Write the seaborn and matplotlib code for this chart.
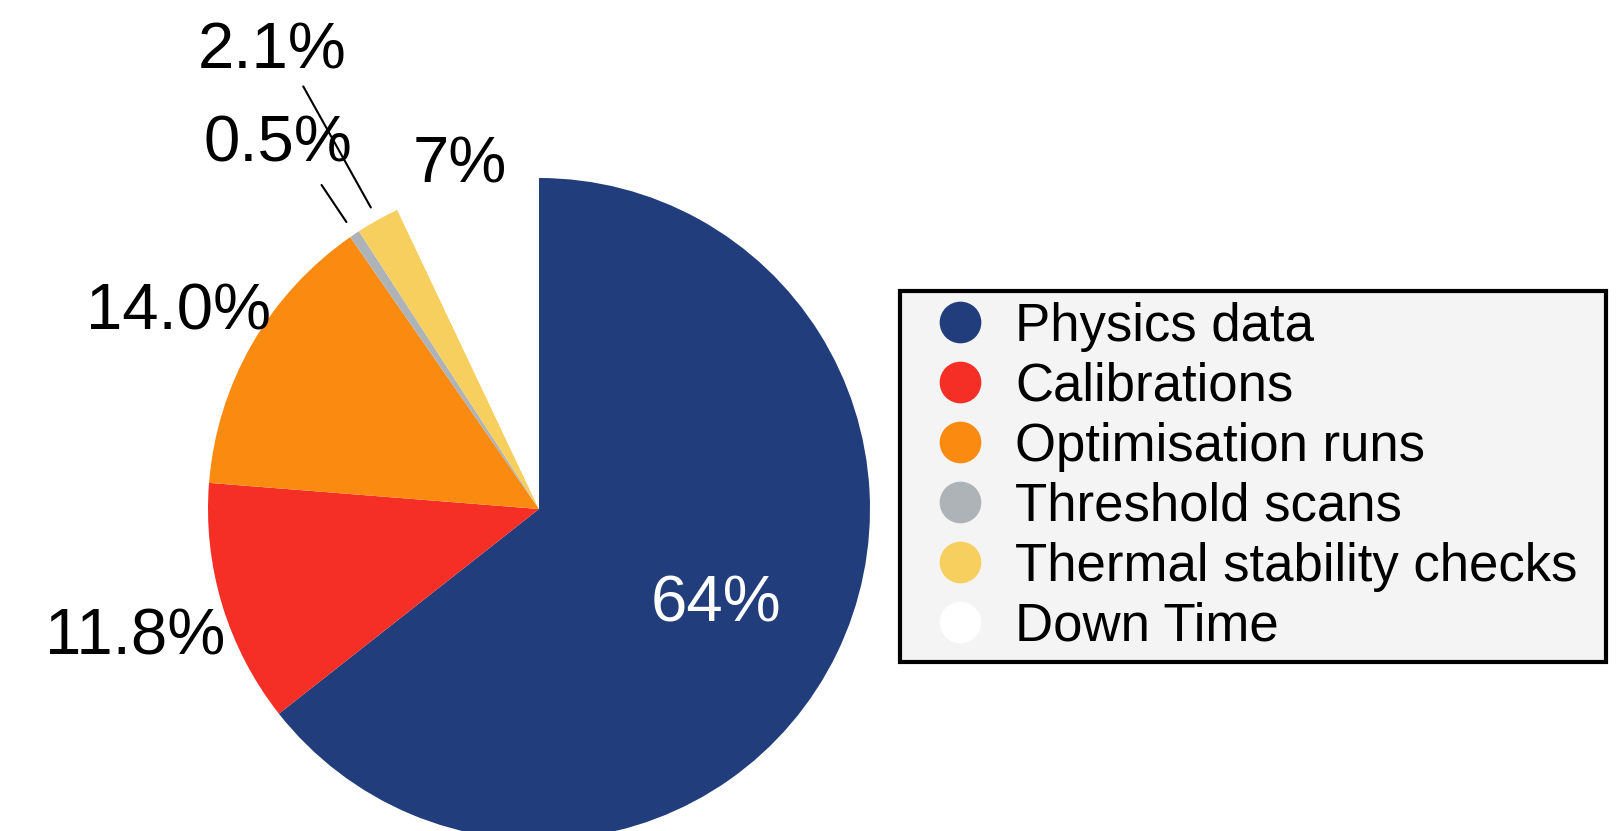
import numpy as np
import matplotlib
matplotlib.use("Agg")
import matplotlib.pyplot as plt
import seaborn as sns
from matplotlib.lines import Line2D

# Dados do gráfico
categorias = ["Physics data", "Calibrations", "Optimisation runs",
              "Threshold scans", "Thermal stability checks", "Down Time"]
percentagens = [64, 11.8, 14.0, 0.5, 2.1, 7]
rotulos = ["64%", "11.8%", "14.0%", "0.5%", "2.1%", "7%"]
cores = ["#223D7C", "#F52E26", "#FA8A10", "#AEB3B8", "#F7CF5E", "#FFFFFF"]

# Layout dos rótulos (distância ao centro em raios, ajuste de ângulo) e linhas de chamada
raio_rotulo = [0.606, 1.279, 1.242, 1.355, 1.599, 1.065]
ajuste_ang = [-2.4, 0.85, 1.25, 1.8, 1.1, 0.3]
linha_chamada = {3: (1.044, 1.179), 4: (1.043, 1.462)}

sns.set_theme(style="white")
plt.rcParams["font.family"] = ["Liberation Sans", "DejaVu Sans"]
plt.rcParams["text.color"] = "black"

fig = plt.figure(figsize=(16.19, 8.31), dpi=100)
ax = fig.add_axes([0, 0, 1, 1])

paleta = sns.color_palette(cores)
wedges, _ = ax.pie(percentagens, colors=paleta, startangle=90, counterclock=False,
                   wedgeprops=dict(linewidth=0))

# Rótulos percentuais
for i, w in enumerate(wedges):
    meio = (w.theta1 + w.theta2) / 2
    ang = np.deg2rad(meio + ajuste_ang[i])
    r = raio_rotulo[i]
    cor_txt = "white" if i == 0 else "black"
    ax.text(r * np.cos(ang), r * np.sin(ang), rotulos[i], ha="center", va="center",
            fontsize=47, color=cor_txt)
    if i in linha_chamada:
        r0, r1 = linha_chamada[i]
        a = np.deg2rad(meio)
        ax.plot([r0 * np.cos(a), r1 * np.cos(a)], [r0 * np.sin(a), r1 * np.sin(a)],
                color="black", lw=1.5)

# Enquadramento: centro da pizza a (539, 509) px, raio 331 px
ax.set_xlim(-539 / 331, (1619 - 539) / 331)
ax.set_ylim(-(831 - 509) / 331, 509 / 331)
ax.set_aspect("auto")
ax.axis("off")

# Legenda
handles = [Line2D([], [], marker="o", linestyle="none", markersize=29,
                  markerfacecolor=c, markeredgecolor=c) for c in paleta]
leg = fig.legend(handles, categorias, loc="upper left",
                 bbox_to_anchor=(900 / 1619, 0, (1606 - 900) / 1619, 1 - 291 / 831),
                 mode="expand", borderaxespad=0,
                 fontsize=38, frameon=True, fancybox=False, framealpha=1,
                 labelspacing=0.19, handlelength=1.88, handletextpad=0.1,
                 borderpad=0.2, labelcolor="black")
leg.get_frame().set_edgecolor("black")
leg.get_frame().set_linewidth(3)
leg.get_frame().set_facecolor("#F4F4F4")

fig.savefig("out.png", dpi=100)
